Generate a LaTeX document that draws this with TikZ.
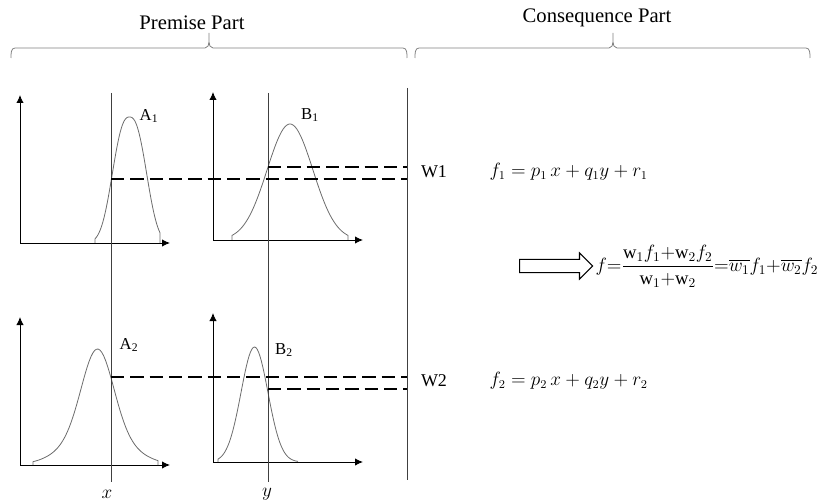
\documentclass[tikz,border=0pt]{standalone}
\usepackage{amsmath}
\usepackage{fontspec}
\setmainfont{Liberation Serif}
\usetikzlibrary{arrows.meta,positioning,shapes.arrows}

\begin{document}
\begin{tikzpicture}[
  x=0.75pt, y=-0.75pt, >={Latex[length=6pt,width=5.5pt]},
  ax/.style={->, line width=0.7pt},
  mf/.style={gray!85!black, line width=0.6pt},
  cut/.style={line width=1.1pt, dash pattern=on 10pt off 4.5pt},
  vl/.style={black!75, line width=0.6pt},
  brc/.style={gray, line width=0.6pt},
  head/.style={font=\fontsize{15.5}{18}\selectfont},
  lab/.style={font=\fontsize{12.5}{15}\selectfont, inner sep=1pt},
  eq/.style={font=\fontsize{13.5}{16}\selectfont, inner sep=1pt}]
\useasboundingbox (0,0) rectangle (819,503);
% titles and braces
\node[head] (prem) at (192,23) {Premise Part};
\node[head] (cons) at (597,18) {Consequence Part};
\foreach \l/\m/\r in {11/209/407, 415/613/810}
  \draw[brc] (\l,58) to[out=90,in=180] (\l+4,48) -- (\m-4,48) to[out=0,in=-90] (\m,42) -- (\m,33)
             (\m,42) to[out=-90,in=180] (\m+4,48) -- (\r-4,48) to[out=0,in=90] (\r,58);
% axes of the four membership plots
\foreach \n/\x/\y/\t in {a1/20/243/95, b1/213/240/92, a2/20/465/317, b2/213/462/313} {
  \coordinate (o\n) at (\x,\y);
  \draw[ax] (o\n) -- (\x,\t);
  \draw[ax] (o\n) -- ++(150,0);
}
% membership functions
\draw[mf] (95,243) -- plot[domain=95:160, samples=60] (\x,{243-126*exp(-abs((\x-129.5)/21.1)^2.5)}) -- (160,243);
\draw[mf] (232,240) -- plot[domain=232:348, samples=60] (\x,{240-116*exp(-((\x-290)/32.3)^2)}) -- (348,240);
\draw[mf] (33,465) -- plot[domain=33:158, samples=70] (\x,{465-116*(0.7*exp(-((\x-97.5)/22)^2)+0.3*exp(-((\x-97.5)/42)^2))}) -- (158,465);
\draw[mf] (218,462) -- plot[domain=218:298, samples=60] (\x,{462-115*exp(-((\x-254.5)/19)^2)});
% inputs and firing levels
\draw[vl] (111,93) -- (111,482); \draw[vl] (268,93) -- (268,482); \draw[vl] (407,88) -- (407,480);
\draw[cut] (111,179) -- (407,179); \draw[cut] (268,167) -- (407,167);
\draw[cut] (111,377) -- (407,377); \draw[cut] (268,389) -- (407,389);
\node[lab] (lA1) at (149,116) {A\textsubscript{1}};
\node[lab] (lB1) at (310,115) {B\textsubscript{1}};
\node[lab] (lA2) at (129,345) {A\textsubscript{2}};
\node[lab] (lB2) at (284,350) {B\textsubscript{2}};
\node[eq] (lx) at (107,494) {$x$};
\node[eq] (ly) at (267,494) {$y$};
% consequence part
\node[eq] (w1) at (434,172) {W1};
\node[eq] (w2) at (434,381) {W2};
\node[eq, anchor=west] (f1) at (488,172) {$f_1 = p_1\,x + q_1 y + r_1$};
\node[eq, anchor=west] (f2) at (488,381) {$f_2 = p_2\,x + q_2 y + r_2$};
\node[single arrow, draw, line width=0.8pt, inner xsep=0pt, inner ysep=4.5pt, minimum height=54.75pt,
  single arrow head extend=4.9pt, anchor=west] (impl) at (519,266) {};
\node[eq, font=\fontsize{14}{16}\selectfont, right=0.5pt of impl] (ftot)
  {$f{=}\dfrac{\mathrm{w}_1 f_1{+}\mathrm{w}_2 f_2}{\mathrm{w}_1{+}\mathrm{w}_2}{=}\overline{w_1}f_1{+}\overline{w_2}f_2$};
\end{tikzpicture}
\end{document}
